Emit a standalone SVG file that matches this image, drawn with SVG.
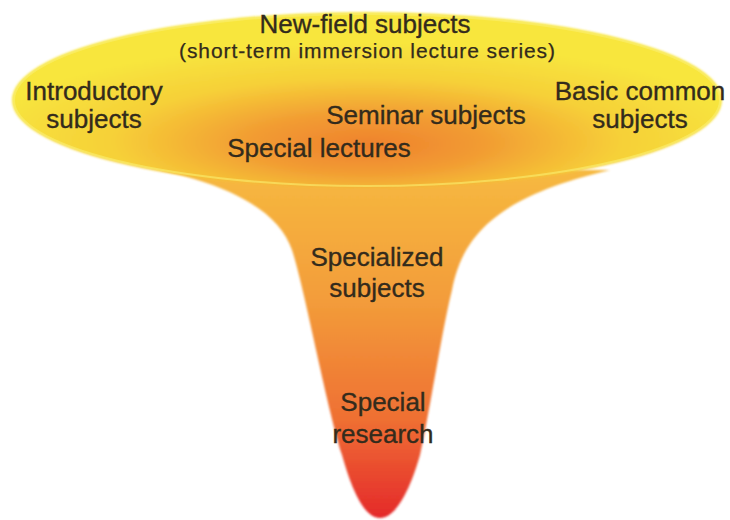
<svg xmlns="http://www.w3.org/2000/svg" width="730" height="520" viewBox="0 0 730 520">
<defs>
<linearGradient id="funnelGrad" gradientUnits="userSpaceOnUse" x1="0" y1="170" x2="0" y2="518">
<stop offset="0" stop-color="#f6b940"/>
<stop offset="0.38" stop-color="#f39c3a"/>
<stop offset="0.72" stop-color="#ef6f33"/>
<stop offset="1" stop-color="#e4292b"/>
</linearGradient>
<radialGradient id="topGrad" cx="0.5" cy="0.72" r="0.55" fx="0.5" fy="0.76">
<stop offset="0" stop-color="#ef812c"/>
<stop offset="0.3" stop-color="#f29c33"/>
<stop offset="0.65" stop-color="#f6d038"/>
<stop offset="1" stop-color="#f8e63e"/>
</radialGradient>
<filter id="soft" x="-5%" y="-5%" width="110%" height="110%">
<feGaussianBlur stdDeviation="1.2"/>
</filter>
</defs>
<style>
.lbl{font-family:"Liberation Sans",Arial,sans-serif;font-size:26px;fill:#332b1c;stroke:#332b1c;stroke-width:0.35;text-anchor:middle}
.sub{font-family:"Liberation Sans",Arial,sans-serif;font-size:21px;fill:#332b1c;stroke:#332b1c;stroke-width:0.25;text-anchor:middle}
</style>
<rect width="730" height="520" fill="#ffffff"/>
<g id="funnel">
<path d="M160,170 C240,188 280,215 292,250 C305,290 325,400 342,455 C352,490 364,518 380,518 C396,518 410,490 420,455 C430,410 442,330 452,290 C462,240 490,198 610,170 Z" fill="url(#funnelGrad)" filter="url(#soft)"/>
</g>
<g id="top-ellipse">
<ellipse cx="367" cy="100" rx="355" ry="88" fill="url(#topGrad)" filter="url(#soft)"/>
<ellipse cx="367" cy="100" rx="353" ry="86" fill="none" stroke="#faee70" stroke-width="2" opacity="0.6"/>
</g>
<g id="new-field">
<text class="lbl" x="365" y="33">New-field subjects</text>
<text class="sub" x="367" y="58" textLength="376" lengthAdjust="spacing">(short-term immersion lecture series)</text>
</g>
<g id="introductory">
<text class="lbl" x="94" y="100">Introductory</text>
<text class="lbl" x="94" y="128">subjects</text>
</g>
<g id="basic-common">
<text class="lbl" x="640" y="100">Basic common</text>
<text class="lbl" x="640" y="128">subjects</text>
</g>
<g id="seminar">
<text class="lbl" x="426" y="124">Seminar subjects</text>
</g>
<g id="special-lectures">
<text class="lbl" x="319" y="157">Special lectures</text>
</g>
<g id="specialized">
<text class="lbl" x="377" y="266">Specialized</text>
<text class="lbl" x="377" y="297">subjects</text>
</g>
<g id="special-research">
<text class="lbl" x="383" y="411">Special</text>
<text class="lbl" x="383" y="443">research</text>
</g>
</svg>
